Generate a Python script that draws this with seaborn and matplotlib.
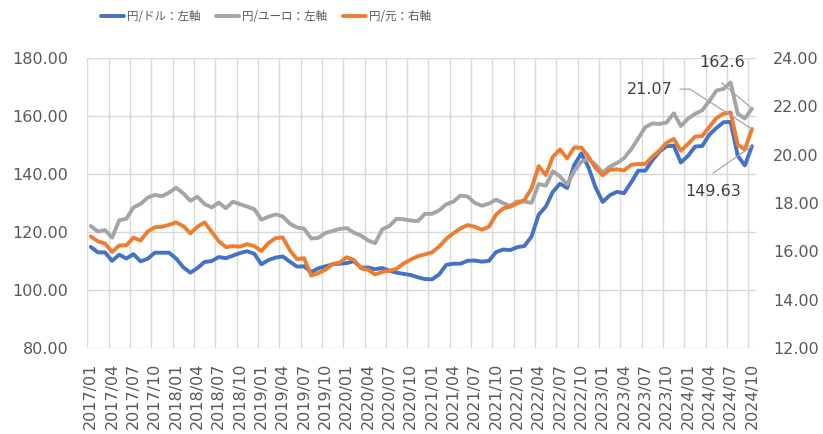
import matplotlib
matplotlib.use("Agg")
import matplotlib.pyplot as plt
import numpy as np
import pandas as pd
import seaborn as sns

# ---------------- data ----------------
months = [f"{y}/{m:02d}" for y in range(2017, 2025) for m in range(1, 13)][:94]

usd_jpy = [
    114.9, 113.0, 113.0, 110.1, 112.2, 110.9, 112.4, 109.9, 110.8, 112.9, 112.9, 112.9,
    110.9, 107.9, 106.0, 107.6, 109.7, 110.0, 111.4, 111.0, 111.9, 112.8, 113.4, 112.5,
    108.9, 110.4, 111.2, 111.6, 109.8, 108.1, 108.2, 106.2, 107.5, 108.2, 108.9, 109.1,
    109.3, 110.0, 107.7, 107.8, 107.2, 107.6, 106.7, 106.0, 105.6, 105.2, 104.4, 103.8,
    103.7, 105.4, 108.7, 109.1, 109.1, 110.1, 110.2, 109.8, 110.1, 113.1, 114.0, 113.8,
    114.8, 115.2, 118.5, 126.0, 128.8, 133.9, 136.7, 135.2, 143.2, 147.1, 142.4, 135.4,
    130.4, 132.7, 133.9, 133.4, 137.1, 141.2, 141.2, 144.8, 147.8, 149.6, 149.8, 144.0,
    146.3, 149.5, 149.7, 153.6, 155.9, 157.9, 158.0, 146.3, 143.0, 149.63,
]

eur_jpy = [
    122.1, 120.2, 120.7, 118.1, 124.1, 124.6, 128.5, 129.7, 131.9, 132.8, 132.4, 133.6,
    135.3, 133.4, 130.8, 132.2, 129.7, 128.5, 130.2, 128.2, 130.5, 129.6, 128.8, 127.9,
    124.3, 125.3, 126.1, 125.4, 122.9, 121.6, 121.2, 117.8, 118.0, 119.7, 120.4, 121.1,
    121.4, 119.8, 118.8, 117.1, 116.2, 121.0, 122.1, 124.6, 124.4, 124.0, 123.8, 126.3,
    126.3, 127.5, 129.6, 130.5, 132.6, 132.3, 130.1, 129.1, 129.8, 131.2, 130.0, 129.0,
    130.6, 130.5, 130.1, 136.6, 136.0, 141.0, 139.2, 136.4, 141.0, 144.3, 145.2, 143.2,
    140.6, 142.6, 143.8, 145.5, 148.5, 152.3, 156.2, 157.5, 157.3, 157.8, 161.0, 156.6,
    159.1, 160.8, 162.0, 165.2, 168.8, 169.4, 171.6, 160.8, 159.2, 162.6,
]

cny_jpy = [
    16.62, 16.42, 16.33, 15.98, 16.25, 16.25, 16.57, 16.45, 16.82, 17.00, 17.02, 17.10,
    17.20, 17.05, 16.75, 17.02, 17.20, 16.82, 16.42, 16.18, 16.22, 16.20, 16.30, 16.22,
    16.02, 16.35, 16.55, 16.58, 16.05, 15.68, 15.72, 15.00, 15.10, 15.24, 15.48, 15.54,
    15.76, 15.65, 15.30, 15.24, 15.05, 15.15, 15.20, 15.28, 15.50, 15.66, 15.80, 15.88,
    15.96, 16.20, 16.52, 16.75, 16.95, 17.09, 17.02, 16.90, 17.02, 17.52, 17.78, 17.85,
    17.99, 18.13, 18.61, 19.53, 19.16, 19.92, 20.22, 19.85, 20.30, 20.30, 19.92, 19.45,
    19.15, 19.38, 19.40, 19.35, 19.58, 19.62, 19.62, 19.92, 20.18, 20.50, 20.66, 20.17,
    20.45, 20.75, 20.78, 21.15, 21.52, 21.70, 21.75, 20.42, 20.22, 21.07,
]

series_names = ["円/ドル：左軸", "円/ユーロ：左軸", "円/元：右軸"]
end_labels = ["149.63", "162.6", "21.07"]

left_ticks = [80, 100, 120, 140, 160, 180]
right_ticks = [12, 14, 16, 18, 20, 22, 24]

# ---------------- style ----------------
BLUE = "#4472C4"
GRAY = "#A5A5A5"
ORANGE = "#ED7D31"
TICK_C = "#595959"
GRID_C = "#D9D9D9"
ANN_C = "#404040"

sns.set_theme(style="white")
plt.rcParams["font.family"] = ["DejaVu Sans", "Noto Sans CJK JP"]

df = pd.DataFrame({"idx": np.arange(len(months)), "month": months,
                   "usd": usd_jpy, "eur": eur_jpy, "cny": cny_jpy})

fig = plt.figure(figsize=(8.23, 4.34), dpi=100)
ax = fig.add_subplot(111)
fig.subplots_adjust(left=0.106, right=0.918, top=0.866, bottom=0.198)
ax2 = ax.twinx()

LW = 2.8
sns.lineplot(data=df, x="idx", y="usd", ax=ax, color=BLUE, lw=LW, legend=False,
             solid_capstyle="round", solid_joinstyle="round")
sns.lineplot(data=df, x="idx", y="eur", ax=ax, color=GRAY, lw=LW, legend=False,
             solid_capstyle="round", solid_joinstyle="round")
sns.lineplot(data=df, x="idx", y="cny", ax=ax2, color=ORANGE, lw=LW, legend=False,
             solid_capstyle="round", solid_joinstyle="round")

n = len(months)
for a in (ax, ax2):
    a.set_xlim(-0.5, n - 0.5)
    a.set_xlabel("")
    a.set_ylabel("")
    for s in a.spines.values():
        s.set_visible(False)

ax.set_ylim(80, 180)
ax2.set_ylim(12, 24)
ax.set_yticks(left_ticks)
ax.set_yticklabels([f"{v:.2f}" for v in left_ticks])
ax2.set_yticks(right_ticks)
ax2.set_yticklabels([f"{v:.2f}" for v in right_ticks])

pos = list(range(0, n, 3))
ax.set_xticks(pos)
ax.set_xticklabels([months[i] for i in pos], rotation=90)
ax.set_xticks([p - 0.5 for p in pos], minor=True)

ax.grid(False)
ax2.grid(False)
ax.yaxis.grid(True, color=GRID_C, lw=1.0)
ax.xaxis.grid(True, which="minor", color=GRID_C, lw=1.0)
ax.set_axisbelow(True)

ax.tick_params(axis="y", length=0, pad=13.5, labelsize=11.5, labelcolor=TICK_C)
ax2.tick_params(axis="y", length=0, pad=12.5, labelsize=11.5, labelcolor=TICK_C)
ax.tick_params(axis="x", which="both", length=0, pad=10.5, labelsize=11.5, labelcolor=TICK_C)

# ---------------- legend ----------------
handles = [ax.get_lines()[0], ax.get_lines()[1], ax2.get_lines()[0]]
fig.legend(handles, series_names, loc="center", bbox_to_anchor=(0.323, 0.962),
           ncol=3, frameon=False, handlelength=2.0, handletextpad=0.25,
           columnspacing=1.35, prop={"family": ["Noto Sans CJK JP"], "size": 8.3},
           labelcolor=TICK_C)

# ---------------- end labels with leader lines ----------------
fig.canvas.draw()
last = n - 1
pts = [
    ax.transData.transform((last, usd_jpy[-1])),
    ax.transData.transform((last, eur_jpy[-1])),
    ax2.transData.transform((last, cny_jpy[-1])),
]
# (text offset, leader path offsets) in pixels relative to the end point
specs = [
    ((-38.6, -45), [(-39, -27), (0, 0)]),
    ((-30, 45.8), [(-30.4, 26), (0, 0)]),
    ((-102, 39.3), [(-72, 39.8), (-62, 39.8), (0, 0)]),
]
LEAD_C = "#A6A6A6"
for (px, py), label, (toff, path) in zip(pts, end_labels, specs):
    fig.text(px + toff[0], py + toff[1], label, transform=None,
             ha="center", va="center", fontsize=11.5, color=ANN_C)
    for (x0, y0), (x1, y1) in zip(path[:-1], path[1:]):
        ax2.annotate("", xy=(px + x1, py + y1), xycoords="figure pixels",
                     xytext=(px + x0, py + y0), textcoords="figure pixels",
                     arrowprops=dict(arrowstyle="-", color=LEAD_C, lw=0.9,
                                     shrinkA=0, shrinkB=0))

fig.savefig("out.png", dpi=100)
